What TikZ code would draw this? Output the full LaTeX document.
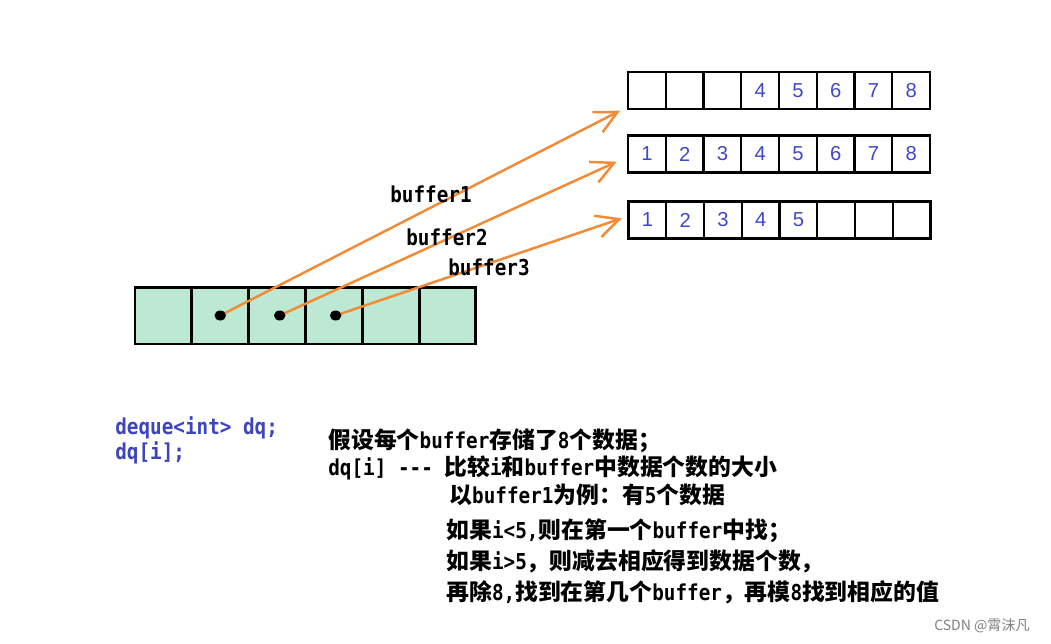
\documentclass[tikz,border=0pt]{standalone}
\usepackage{fontspec}
\setmainfont{Noto Sans CJK SC}
\newfontfamily\latfont[Scale=0.96,FakeStretch=0.88]{DejaVu Sans Mono}
\newfontfamily\digitfont{Liberation Sans}
\usetikzlibrary{arrows.meta,shapes.geometric}
\definecolor{arroworange}{HTML}{F28A36}
\definecolor{dequegreen}{HTML}{BDE8D4}
\definecolor{numblue}{HTML}{3F48CC}
\definecolor{codeblue}{HTML}{3C44BE}

\newcommand\lat[1]{{\latfont #1}}

\tikzset{
  bufcell/.style={draw, line width=1.4pt, inner sep=0pt, outer sep=0pt,
    minimum width=0.755cm, minimum height=0.74cm,
    text=numblue, font=\digitfont\fontsize{11.5}{13}\selectfont},
  dqcell/.style={draw, fill=dequegreen, line width=1.7pt, inner sep=0pt, outer sep=0pt,
    minimum width=1.137cm, minimum height=1.14cm},
  dot/.style={ellipse, fill=black, inner sep=0pt, minimum width=0.23cm, minimum height=0.2cm},
  pointer/.style={->, line width=1.4pt, arroworange},
  note/.style={anchor=west, inner sep=0pt, font=\bfseries\fontsize{13}{15}\selectfont},
  lbl/.style={note, font=\latfont\bfseries\fontsize{13}{15}\selectfont},
  code/.style={lbl, text=codeblue}
}

\begin{document}
\begin{tikzpicture}[x=0.02cm, y=-0.02cm, >={Straight Barb[length=4.5mm,width=4.5mm]}]

\useasboundingbox (0,0) rectangle (1051,643);

% buffers

\foreach \i in {1,...,8}
  \node[bufcell] (a\i) at ({628+37.75*(\i-0.5)},90.5) {\ifnum\i>3 \i\fi};

\foreach \i in {1,...,8}
  \node[bufcell] (b\i) at ({628+37.75*(\i-0.5)},154) {\i};

\foreach \i in {1,...,8}
  \node[bufcell] (c\i) at ({628.5+37.75*(\i-0.5)},220) {\ifnum\i<6 \i\fi};

% map

\foreach \i in {1,...,6}
  \node[dqcell] (q\i) at ({135+56.83*(\i-0.5)},315.5) {};

% punters

\coordinate (t1) at (620,110.7);

\coordinate (t2) at (616.7,161.7);

\coordinate (t3) at (621.7,218.3);

\draw[pointer] (q2.center) -- (t1);

\draw[pointer] ([xshift=1.5pt]q3.center) -- (t2);

\draw[pointer] ([xshift=1pt]q4.center) -- (t3);

\node[dot] (p1) at (q2) {};

\node[dot] (p2) at ([xshift=1.5pt]q3.center) {};

\node[dot] (p3) at ([xshift=1pt]q4.center) {};

\node[lbl] (l1) at (390,194) {buffer1};

\node[lbl] (l2) at (406,237) {buffer2};

\node[lbl] (l3) at (448,267) {buffer3};

% codi

\node[code] (c1) at (115,428) {deque<int> dq;};

\node[code] (c2) at (115,453) {dq[i];};

% text

\node[note] (n1) at (328,441) {假设每个\lat{buffer}存储了\lat{8}个数据；};

\node[note] (n2) at (328,468) {\lat{dq[i] {-}{-}{-} }比较\lat{i}和\lat{buffer}中数据个数的大小};

\node[note] (n3) at (449,495) {以\lat{buffer1}为例：有\lat{5}个数据};

\node[note] (n4) at (446,531) {如果\lat{i<5,}则在第一个\lat{buffer}中找；};

\node[note] (n5) at (446,561) {如果\lat{i>5}，则减去相应得到数据个数，};

\node[note] (n6) at (446,592) {再除\lat{8,}找到在第几个\lat{buffer}，再模\lat{8}找到相应的值};

\node[anchor=east, inner sep=0pt, text=gray, font=\fontsize{8}{10}\selectfont] (wm) at (1030,626) {CSDN @霄沫凡};

\end{tikzpicture}
\end{document}
